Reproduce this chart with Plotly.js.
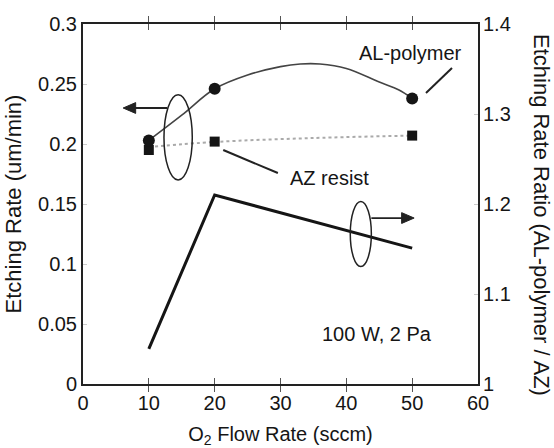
<!DOCTYPE html>
<html>
<head>
<meta charset="utf-8">
<script src="https://cdn.plot.ly/plotly-3.0.1.min.js"></script>
<style>html,body{margin:0;padding:0;background:#fff;}#chart{width:554px;height:448px;}</style>
</head>
<body>
<div id="chart"></div>
<script>
// O2 flow rate (sccm) of measured points
const flowRates = [10, 20, 50];
// Etching rate (um/min)
const alPolymerRate = [0.203, 0.246, 0.238];
const azResistRate = [0.195, 0.202, 0.207];
// Etching rate ratio (AL-polymer / AZ)
const ratioValues = [1.039, 1.21, 1.151];

// Fitted curves as drawn in the figure
const alCurveX = [10, 15, 20, 25, 30, 33, 36, 40, 45, 48, 50];
const alCurveY = [0.203, 0.224, 0.246, 0.2575, 0.2645, 0.2667, 0.2667, 0.263, 0.2517, 0.245, 0.238];
const azCurveX = [10, 20, 35, 50];
const azCurveY = [0.1975, 0.2017, 0.205, 0.207];

const xTicks = [0, 10, 20, 30, 40, 50, 60];
const yTicks = [0, 0.05, 0.1, 0.15, 0.2, 0.25, 0.3];
const y2Ticks = [1, 1.1, 1.2, 1.3, 1.4];

const FONT = 'Arial, "Liberation Sans", Helvetica, sans-serif';
const INK = '#151515';

const traces = [
  {x: alCurveX, y: alCurveY, mode: 'lines', line: {color: '#444', width: 1.6, shape: 'spline'}, hoverinfo: 'skip', showlegend: false},
  {x: azCurveX, y: azCurveY, mode: 'lines', line: {color: '#aaa', width: 2, dash: 'dot', shape: 'spline'}, hoverinfo: 'skip', showlegend: false},
  {x: flowRates, y: azResistRate, mode: 'markers', name: 'AZ resist', marker: {symbol: 'square', size: 10, color: INK}, showlegend: false},
  {x: flowRates, y: alPolymerRate, mode: 'markers', name: 'AL-polymer', marker: {symbol: 'circle', size: 12, color: INK}, showlegend: false},
  {x: flowRates, y: ratioValues, yaxis: 'y2', mode: 'lines', name: 'Ratio', line: {color: INK, width: 3}, showlegend: false}
];

const layout = {
  width: 554, height: 448,
  margin: {l: 83, r: 76, t: 24, b: 64},
  paper_bgcolor: '#fff', plot_bgcolor: '#fff',
  font: {family: FONT, color: INK, size: 20},
  showlegend: false,
  xaxis: {
    range: [0, 60], tickvals: xTicks, ticks: 'inside', ticklen: 6, tickcolor: '#555', tickwidth: 1.2,
    showline: true, linecolor: '#222', linewidth: 2, mirror: 'allticks',
    showgrid: false, zeroline: false, tickfont: {size: 20, family: FONT, color: INK},
    title: {text: 'O<sub>2</sub> Flow Rate (sccm)', font: {size: 20, family: FONT, color: INK}, standoff: 14}
  },
  yaxis: {
    range: [0, 0.3], tickvals: yTicks, ticks: 'inside', ticklen: 4, tickcolor: '#ccc',
    showline: true, linecolor: '#222', linewidth: 2, mirror: true,
    showgrid: false, zeroline: false, tickfont: {size: 20, family: FONT, color: INK},
    title: {text: 'Etching Rate (um/min)', font: {size: 22, family: FONT, color: INK}, standoff: 10}
  },
  yaxis2: {
    range: [1, 1.4], tickvals: y2Ticks, overlaying: 'y', side: 'right', ticks: 'inside', ticklen: 4, tickcolor: '#ccc',
    ticklabelstandoff: 4,
    showline: false, showgrid: false, zeroline: false, tickfont: {size: 20, family: FONT, color: INK}
  },
  shapes: [
    // ellipses grouping the curves
    {type: 'circle', xref: 'x', yref: 'y', x0: 12.3, x1: 16.6, y0: 0.170, y1: 0.241, line: {color: '#222', width: 1.5}},
    {type: 'circle', xref: 'x', yref: 'y', x0: 40.6, x1: 43.8, y0: 0.098, y1: 0.152, line: {color: '#222', width: 1.5}},
    // label pointer lines
    {type: 'line', xref: 'x', yref: 'y', x0: 52.1, y0: 0.2425, x1: 56.05, y1: 0.2633, line: {color: '#222', width: 2}},
    {type: 'line', xref: 'x', yref: 'y', x0: 21.3, y0: 0.195, x1: 29.6, y1: 0.1758, line: {color: '#222', width: 2}},
    // left arrow (pointing to left axis)
    {type: 'line', xref: 'x', yref: 'y', x0: 12.8, y0: 0.23, x1: 7.6, y1: 0.23, line: {color: '#222', width: 1.8}},
    {type: 'path', xref: 'x', yref: 'y', path: 'M 6.1,0.23 L 8.0,0.2345 L 8.0,0.2255 Z', fillcolor: '#222', line: {color: '#222', width: 1}},
    // right arrow (pointing to right axis)
    {type: 'line', xref: 'x', yref: 'y', x0: 43.8, y0: 0.1383, x1: 48.8, y1: 0.1383, line: {color: '#222', width: 1.8}},
    {type: 'path', xref: 'x', yref: 'y', path: 'M 50.3,0.1383 L 48.4,0.1428 L 48.4,0.1338 Z', fillcolor: '#222', line: {color: '#222', width: 1}}
  ],
  annotations: [
    {x: 49.8, y: 0.2758, xref: 'x', yref: 'y', text: 'AL-polymer', showarrow: false, font: {size: 20, family: FONT, color: INK}},
    {x: 37.4, y: 0.1717, xref: 'x', yref: 'y', text: 'AZ resist', showarrow: false, font: {size: 20, family: FONT, color: INK}},
    {x: 44.66, y: 0.0417, xref: 'x', yref: 'y', text: '100 W, 2 Pa', showarrow: false, font: {size: 20, family: FONT, color: INK}},
    {x: 1.159, y: 0.47, xref: 'paper', yref: 'paper', text: 'Etching Rate Ratio (AL-polymer / AZ)', textangle: 90, showarrow: false, xanchor: 'center', yanchor: 'middle', font: {size: 22, family: FONT, color: INK}}
  ]
};

Plotly.newPlot('chart', traces, layout, {displayModeBar: false, responsive: false});
</script>
</body>
</html>
